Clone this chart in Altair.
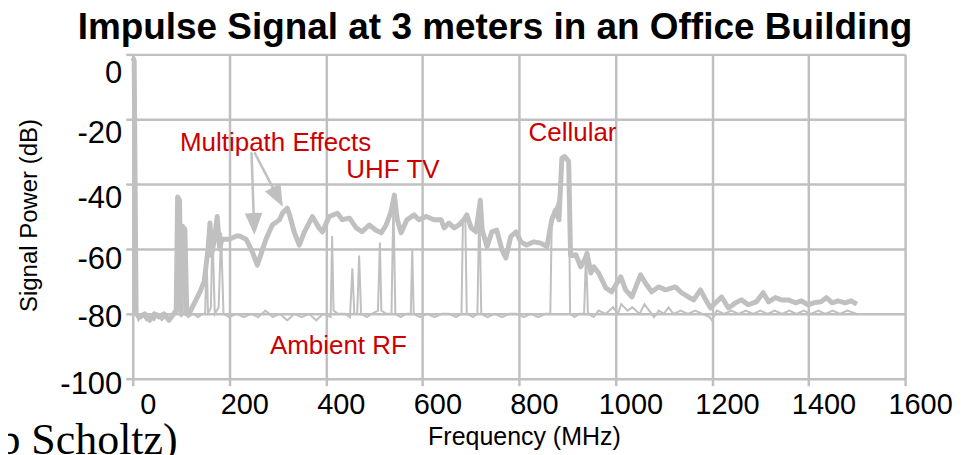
import math
import altair as alt
import pandas as pd

# ---------------- data ----------------
chart_title = "Impulse Signal at 3 meters in an Office Building"
x_title = "Frequency (MHz)"
y_title = "Signal Power (dB)"
x_ticks = [0, 200, 400, 600, 800, 1000, 1200, 1400, 1600]
y_ticks = [-100, -80, -60, -40, -20, 0]

impulse_freq = [0, 3, 7, 15, 25, 35, 45, 55, 65, 75, 85, 90, 93, 97, 100, 103, 108, 112, 120, 130,
                140, 148, 152, 156, 160, 163, 168, 175, 180, 183, 186, 190, 200, 215, 221, 235, 248, 258,
                276, 289, 304, 310, 320, 324, 335, 345, 355, 372, 386, 393, 407, 424, 434, 449, 463, 475,
                490, 504, 515, 525, 535, 542, 548, 556, 568, 583, 593, 608, 624, 639, 645, 655, 666, 676,
                686, 692, 701, 711, 720, 724, 734, 744, 754, 765, 773, 783, 794, 804, 816, 831, 845, 858,
                868, 876, 883, 889, 895, 903, 907, 918, 928, 938, 941, 949, 955, 965, 980, 992, 1011, 1021,
                1034, 1052, 1062, 1075, 1089, 1104, 1124, 1137, 1151, 1162, 1176, 1187, 1197, 1207, 1220,
                1234, 1249, 1261, 1275, 1292, 1306, 1317, 1331, 1344, 1358, 1373, 1385, 1399, 1414, 1426,
                1437, 1449, 1461, 1476, 1488, 1500]
impulse_db = [-1, -2, -80, -81, -80, -82, -80, -81, -80, -82, -80, -79, -44, -45, -80, -53, -54, -80, -79, -76,
              -73, -70, -65, -60, -52, -62, -58, -50, -60, -58, -57, -57, -57, -56, -56, -57, -61, -65,
              -57, -52.6, -51, -49, -47.4, -49, -55, -58.8, -55, -50, -53.5, -54.7, -50, -49, -51, -50.5, -53.5, -54.7,
              -52.6, -54.2, -55, -52.6, -48.6, -43.4, -51, -55, -51, -49.5, -51, -50, -51, -51, -53.5, -52, -53.5, -52.6,
              -51, -49.5, -53.5, -54.7, -45, -54.2, -59.3, -54.7, -54.2, -60.3, -62.8, -56.2, -54.7, -57.8, -58.8, -57.8, -58.2, -59.3,
              -51, -48, -51, -32, -31.5, -33, -62, -61.8, -65.5, -62.8, -61.3, -67.4, -65.5, -67.4, -72, -73.2, -68.6, -72.6,
              -74.8, -68, -70.5, -73.2, -71.7, -72.6, -71.7, -73.5, -74.8, -75.7, -72.6, -75.7, -78.2, -76.6, -74.8,
              -78.2, -76.6, -75.7, -77.2, -76.3, -73.5, -76.3, -75, -75.7, -75.7, -76.6, -76, -77.2, -76.5, -76.3,
              -75, -76.6, -76, -76.6, -76, -77]

ambient_freq = [0, 3, 6, 12, 20, 28, 36, 44, 52, 60, 68, 76, 84, 91, 94, 98, 101, 104, 107, 115,
                125, 135, 145, 150, 153, 156, 162, 165, 170, 178, 183, 188, 200, 215, 230, 245, 260, 275,
                290, 305, 320, 335, 350, 365, 380, 395, 410, 413, 416, 425, 440, 450, 455, 459, 465, 469,
                473, 485, 495, 508, 512, 515, 525, 536, 540, 544, 555, 566, 576, 579, 582, 595, 610, 625,
                640, 655, 670, 681, 684, 689, 692, 705, 714, 718, 722, 735, 750, 765, 780, 795, 810, 825,
                840, 855, 865, 868, 875, 882, 889, 897, 903, 906, 915, 925, 935, 939, 943, 955, 965, 980,
                995, 1005, 1012, 1025, 1035, 1050, 1060, 1070, 1080, 1090, 1100, 1110, 1120, 1135, 1150,
                1165, 1180, 1195, 1200, 1210, 1225, 1240, 1255, 1270, 1285, 1300, 1315, 1330, 1345, 1360,
                1375, 1390, 1405, 1420, 1435, 1450, 1465, 1480, 1500]
ambient_db = [0, -1, -80, -82, -80, -82, -81, -82, -80, -82, -81, -82, -80, -80, -46, -80, -81, -54, -80, -81,
              -80, -81, -80, -80, -62, -80, -78, -54, -80, -78, -55, -80, -81, -80, -81, -80, -81, -79,
              -81, -80, -82, -80, -81, -80, -82, -80, -81, -56, -79, -80, -80, -81, -66, -80, -80, -62,
              -80, -81, -80, -79, -58, -79, -80, -80, -45, -80, -81, -80, -80, -60, -80, -81, -80, -81,
              -80, -80, -81, -80, -51, -51, -80, -81, -80, -46, -80, -81, -80, -81, -80, -80, -81, -80,
              -81, -80, -80, -52, -48, -45, -32, -32, -34, -80, -81, -80, -80, -61, -80, -81, -79, -80,
              -78, -80, -77, -79, -78, -80, -77, -79, -81, -79, -80, -78, -80, -79, -80,
              -79, -80, -81, -82, -79, -80, -79, -80, -79, -80, -79, -80, -79, -80, -79,
              -80, -79, -80, -79, -80, -79, -80, -79, -80]

note_text = ["Multipath Effects", "UHF TV", "Cellular", "Ambient RF"]
note_freq = [296, 539, 911, 426]
note_db = [-27.4, -35.6, -24.2, -89.8]

arrow_start_freq = [246, 252]
arrow_start_db = [-30.2, -30.2]
arrow_tip_freq = [252, 311]
arrow_tip_db = [-55.7, -47.0]

credit_text = "(Bob Scholtz)"
credit_freq = [93]
credit_db = [-123.3]

# ---------------- layout ----------------
W, H = 774, 325
X_DOM = [0, 1600]
Y_DOM = [-100, 0]
GRID = "#c0c0c0"
LINE = "#c0c0c0"
RED = "#cc0000"
FONT = "Liberation Sans"

px_x = W / (X_DOM[1] - X_DOM[0])
px_y = H / (Y_DOM[1] - Y_DOM[0])
HEAD = 11  # half length of arrowhead in px

heads = []
rules = []
for sf, sd, tf, td in zip(arrow_start_freq, arrow_start_db, arrow_tip_freq, arrow_tip_db):
    dxp = (tf - sf) * px_x
    dyp = -(td - sd) * px_y
    L = math.hypot(dxp, dyp)
    ux, uy = dxp / L, dyp / L
    cf = tf - HEAD * ux / px_x
    cd = td + HEAD * uy / px_y
    ang = math.degrees(math.atan2(ux, -uy)) % 360
    heads.append({"f": cf, "d": cd, "a": ang})
    rules.append({"f": sf, "d": sd, "f2": cf, "d2": cd})

df_imp = pd.DataFrame({"f": impulse_freq, "d": impulse_db})
df_amb = pd.DataFrame({"f": ambient_freq, "d": ambient_db})
df_note = pd.DataFrame({"t": note_text, "f": note_freq, "d": note_db})
df_rule = pd.DataFrame(rules)
df_head = pd.DataFrame(heads)
df_credit = pd.DataFrame({"t": [credit_text], "f": credit_freq, "d": credit_db})

y_offsets = {0: 19, -20: 14, -40: 14, -60: 11, -80: 4, -100: 6}
y_label_offset = {
    "condition": [{"test": f"datum.value == {v}", "value": o} for v, o in y_offsets.items()],
    "value": 8,
}

x_enc = alt.X(
    "f:Q",
    scale=alt.Scale(domain=X_DOM, nice=False, zero=False),
    axis=alt.Axis(
        values=x_ticks, title=x_title, grid=True, gridColor=GRID, gridWidth=2.5,
        domain=False, ticks=True, tickColor=GRID, tickWidth=2.5, tickSize=7,
        labelExpr="datum.value + ''",
        labelFont=FONT, labelFontSize=29, labelColor="black", labelPadding=5,
        labelOffset=15, labelFlush=False, labelOverlap=False,
        titleFont=FONT, titleFontSize=25, titleFontWeight="normal", titleColor="black",
        titleX=392, titleY=58, titleBaseline="middle", titleAlign="center",
    ),
)
y_enc = alt.Y(
    "d:Q",
    scale=alt.Scale(domain=Y_DOM, nice=False, zero=False),
    axis=alt.Axis(
        values=y_ticks, title=y_title, grid=True, gridColor=GRID, gridWidth=2.5,
        domain=False, ticks=True, tickColor=GRID, tickWidth=2.5, tickSize=7,
        labelExpr="datum.value + ''",
        labelFont=FONT, labelFontSize=31, labelColor="black", labelPadding=4,
        labelOffset=y_label_offset, labelFlush=False, labelOverlap=False,
        titleFont=FONT, titleFontSize=24, titleFontWeight="normal", titleColor="black",
        titleX=-103, titleY=161, titleBaseline="middle", titleAlign="center", titleAngle=270,
    ),
)

thick = alt.Chart(df_imp).mark_line(color=LINE, strokeWidth=5, strokeJoin="round").encode(
    x=x_enc, y=y_enc, order="f:Q")
thin = alt.Chart(df_amb).mark_line(color=LINE, strokeWidth=2).encode(
    x="f:Q", y="d:Q", order="f:Q")
arrows = alt.Chart(df_rule).mark_rule(color=LINE, strokeWidth=2.5).encode(
    x="f:Q", y="d:Q", x2="f2:Q", y2="d2:Q")
arrowheads = alt.Chart(df_head).mark_point(
    shape="M0,-1L-0.8,1L0.8,1Z", filled=True, color=LINE, opacity=1, size=484, strokeWidth=0
).encode(x="f:Q", y="d:Q", angle=alt.Angle("a:Q", scale=None))
notes = alt.Chart(df_note).mark_text(
    color=RED, font=FONT, fontSize=26, align="center", baseline="middle"
).encode(x="f:Q", y="d:Q", text="t:N")
credit = alt.Chart(df_credit).mark_text(
    color="black", font="Liberation Serif", fontSize=44, align="right", baseline="alphabetic"
).encode(x="f:Q", y="d:Q", text="t:N")

chart = alt.layer(thick, thin, arrows, arrowheads, notes, credit).properties(
    width=W, height=H,
    title=alt.TitleParams(chart_title, font=FONT, fontSize=37, fontWeight="bold", color="black",
                          anchor="middle", dx=-24, offset=3),
    autosize=alt.AutoSizeParams(type="none"),
    padding={"left": 125, "top": 46, "right": 50, "bottom": 76},
).configure_view(strokeWidth=0).configure(background="white")

chart.save("out.html", embed_options={"renderer": "svg", "actions": False})
